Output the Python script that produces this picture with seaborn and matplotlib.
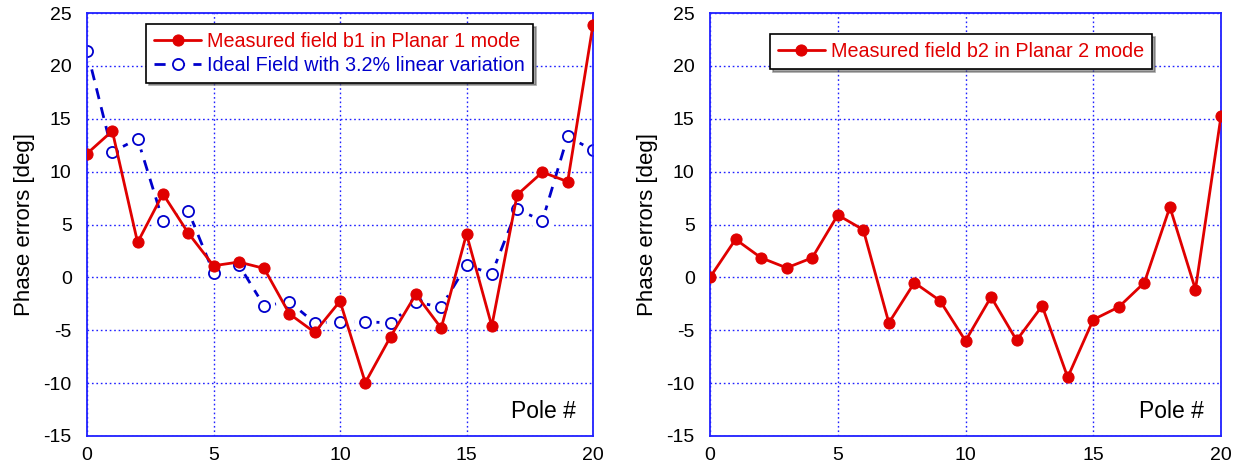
import numpy as np
import pandas as pd
import seaborn as sns
import matplotlib
matplotlib.use("Agg")
import matplotlib.pyplot as plt

poles = list(range(21))
b1_measured = [11.7, 13.85, 3.3, 7.9, 4.2, 1.1, 1.45, 0.85, -3.45, -5.2, -2.25,
               -9.95, -5.6, -1.6, -4.8, 4.1, -4.6, 7.8, 9.95, 9.05, 23.9]
b1_ideal = [21.45, 11.85, 13.1, 5.35, 6.3, 0.45, 1.2, -2.7, -2.3, -4.3, -4.2,
            -4.2, -4.3, -2.35, -2.8, 1.15, 0.35, 6.45, 5.35, 13.35, 12.0]
b2_measured = [0.0, 3.6, 1.85, 0.9, 1.85, 5.9, 4.5, -4.3, -0.5, -2.2, -6.0,
               -1.85, -5.95, -2.7, -9.45, -4.0, -2.8, -0.5, 6.65, -1.15, 15.25]

labels_left = ["Measured field b1 in Planar 1 mode", "Ideal Field with 3.2% linear variation"]
label_right = "Measured field b2 in Planar 2 mode"
ylabel = "Phase errors [deg]"
xlabel_note = "Pole #"
xticks = [0, 5, 10, 15, 20]
yticks = [-15, -10, -5, 0, 5, 10, 15, 20, 25]

sns.set_style("white")
plt.rcParams['font.family'] = ['Liberation Sans', 'DejaVu Sans']
plt.rcParams['axes.unicode_minus'] = False

RED = "#e00000"
BLUE = "#0000cc"
AXBLUE = "#2020ff"

fig = plt.figure(figsize=(12.34, 4.68), dpi=100)
axL = fig.add_axes([87/1234, 32/468, 506/1234, 423/468])
axR = fig.add_axes([710/1234, 32/468, 511/1234, 423/468])

dfL = pd.DataFrame({"pole": poles, "meas": b1_measured, "ideal": b1_ideal})
dfR = pd.DataFrame({"pole": poles, "meas": b2_measured})

# ideal field: dashed line, white halos (gaps), open circles
sns.lineplot(data=dfL, x="pole", y="ideal", ax=axL, color=BLUE, lw=2.0,
             marker="o", markersize=8, markeredgecolor=BLUE, markerfacecolor="white",
             markeredgewidth=1.3, label=labels_left[1], zorder=2)
axL.lines[-1].set_linestyle((0, (4, 3)))
sns.scatterplot(data=dfL, x="pole", y="ideal", ax=axL, color="white", s=260,
                edgecolor="none", linewidth=0, zorder=2.1, legend=False)
sns.lineplot(data=dfL, x="pole", y="ideal", ax=axL, color=BLUE, lw=0,
             marker="o", markersize=8, markeredgecolor=BLUE, markerfacecolor="white",
             markeredgewidth=1.3, zorder=2.2, legend=False)

sns.lineplot(data=dfL, x="pole", y="meas", ax=axL, color=RED, lw=2.0,
             marker="o", markersize=8, markeredgecolor=RED, markerfacecolor=RED,
             label=labels_left[0], zorder=3)

sns.lineplot(data=dfR, x="pole", y="meas", ax=axR, color=RED, lw=2.0,
             marker="o", markersize=8, markeredgecolor=RED, markerfacecolor=RED,
             label=label_right, zorder=3)

for ax in (axL, axR):
    ax.set_xlim(0, 20)
    ax.set_ylim(-15, 25)
    ax.set_xticks(xticks)
    ax.set_yticks(yticks)
    ax.set_xlabel("")
    ax.set_ylabel(ylabel, fontsize=16, labelpad=6, color="black")
    ax.tick_params(axis="both", labelsize=14, direction="in", length=4, width=1,
                   color=AXBLUE, labelcolor="black")
    ax.tick_params(axis="y", pad=11)
    ax.tick_params(axis="x", pad=8)
    ax.grid(True, color=AXBLUE, linestyle=(0, (1.2, 2)), linewidth=1.0)
    for s in ax.spines.values():
        s.set_color(AXBLUE)
        s.set_linewidth(1.3)
        s.set_visible(True)
    ax.text(18.05, -12.7, xlabel_note, fontsize=16.5, ha="center", va="center", color="black")

h, l = axL.get_legend_handles_labels()
order = [l.index(labels_left[0]), l.index(labels_left[1])]
legL = axL.legend([h[i] for i in order], [l[i] for i in order],
                  loc="upper left", bbox_to_anchor=(0.117, 0.974), fancybox=False, shadow=True,
                  edgecolor="black", framealpha=1, fontsize=14.2, handlelength=2.4,
                  handletextpad=0.3, borderpad=0.4, labelspacing=0.25, borderaxespad=0)
legL.get_frame().set_linewidth(1.2)
for t, c in zip(legL.get_texts(), [RED, BLUE]):
    t.set_color(c)

legR = axR.legend(loc="upper left", bbox_to_anchor=(0.117, 0.95), fancybox=False, shadow=True,
                  edgecolor="black", framealpha=1, fontsize=14.2, handlelength=2.4,
                  handletextpad=0.3, borderpad=0.4, borderaxespad=0)
legR.get_frame().set_linewidth(1.2)
for t in legR.get_texts():
    t.set_color(RED)

fig.savefig("out.png", dpi=100)
